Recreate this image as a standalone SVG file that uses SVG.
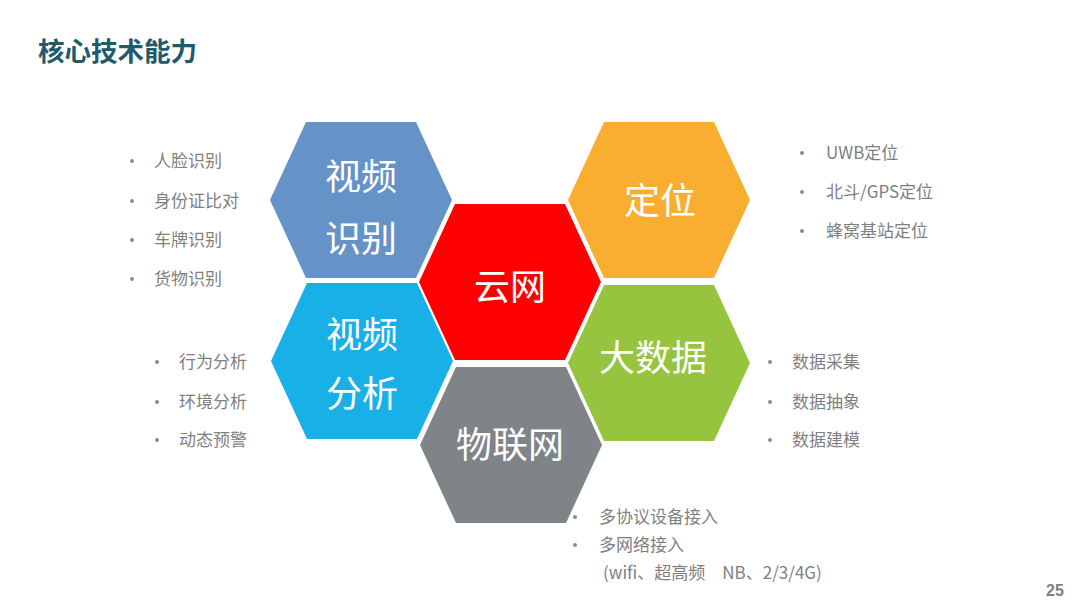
<svg xmlns="http://www.w3.org/2000/svg" width="1080" height="608" viewBox="0 0 1080 608">
<style>
.hx{stroke:none}
.ht{font-family:"Noto Sans CJK SC","Noto Sans",sans-serif;font-size:36px;fill:#ffffff;text-anchor:middle}
.li{font-family:"Noto Sans CJK SC","Noto Sans",sans-serif;font-size:17px;fill:#7f7f7f}
.bu{fill:#8c8c8c}
.title{font-family:"Noto Sans CJK SC","Noto Sans",sans-serif;font-size:26.5px;font-weight:bold;fill:#215a6a}
.pg{font-family:"Liberation Sans","Noto Sans",sans-serif;font-size:16px;font-weight:bold;fill:#7f7f7f}
</style>
<defs>
<path id="hex" d="M-91,0 L-55,-78 L55,-78 L91,0 L55,78 L-55,78 Z"/>
</defs>
<rect width="1080" height="608" fill="#ffffff"/>
<text class="title" x="38" y="61">核心技术能力</text>

<g id="node-video-recog">
<use href="#hex" x="361" y="200" fill="#6592c7"/>
<text class="ht" x="361" y="190">视频</text>
<text class="ht" x="361" y="252">识别</text>
</g>
<g id="node-location">
<use href="#hex" x="659" y="200" fill="#f9ae31"/>
<text class="ht" x="660" y="214">定位</text>
</g>
<g id="node-cloud">
<use href="#hex" x="510" y="282" fill="#ff0000"/>
<text class="ht" x="510" y="300">云网</text>
</g>
<g id="node-video-analysis">
<use href="#hex" x="362" y="361" fill="#19b0e8"/>
<text class="ht" x="362" y="348">视频</text>
<text class="ht" x="362" y="407">分析</text>
</g>
<g id="node-bigdata">
<use href="#hex" x="659" y="363" fill="#97c43e"/>
<text class="ht" x="653" y="371">大数据</text>
</g>
<g id="node-iot">
<use href="#hex" x="511" y="445" fill="#7f8488"/>
<text class="ht" x="510" y="458">物联网</text>
</g>

<g id="list-video-recog">
<circle class="bu" cx="132" cy="161" r="2"/><text class="li" x="154" y="167">人脸识别</text>
<circle class="bu" cx="132" cy="201" r="2"/><text class="li" x="154" y="207">身份证比对</text>
<circle class="bu" cx="132" cy="240" r="2"/><text class="li" x="154" y="246">车牌识别</text>
<circle class="bu" cx="132" cy="279" r="2"/><text class="li" x="154" y="285">货物识别</text>
</g>
<g id="list-video-analysis">
<circle class="bu" cx="157" cy="362" r="2"/><text class="li" x="179" y="368">行为分析</text>
<circle class="bu" cx="157" cy="402" r="2"/><text class="li" x="179" y="408">环境分析</text>
<circle class="bu" cx="157" cy="440" r="2"/><text class="li" x="179" y="446">动态预警</text>
</g>
<g id="list-location">
<circle class="bu" cx="802" cy="153" r="2"/><text class="li" x="826" y="159">UWB定位</text>
<circle class="bu" cx="802" cy="192" r="2"/><text class="li" x="826" y="198">北斗/GPS定位</text>
<circle class="bu" cx="802" cy="231" r="2"/><text class="li" x="826" y="237">蜂窝基站定位</text>
</g>
<g id="list-bigdata">
<circle class="bu" cx="770" cy="362" r="2"/><text class="li" x="792" y="368">数据采集</text>
<circle class="bu" cx="770" cy="402" r="2"/><text class="li" x="792" y="408">数据抽象</text>
<circle class="bu" cx="770" cy="440" r="2"/><text class="li" x="792" y="446">数据建模</text>
</g>
<g id="list-iot">
<circle class="bu" cx="575" cy="517" r="2"/><text class="li" x="599" y="523">多协议设备接入</text>
<circle class="bu" cx="575" cy="545" r="2"/><text class="li" x="599" y="551">多网络接入</text>
<text class="li" x="603" y="579" xml:space="preserve">(wifi、超高频　NB、2/3/4G)</text>
</g>

<text class="pg" x="1046" y="596">25</text>
</svg>
